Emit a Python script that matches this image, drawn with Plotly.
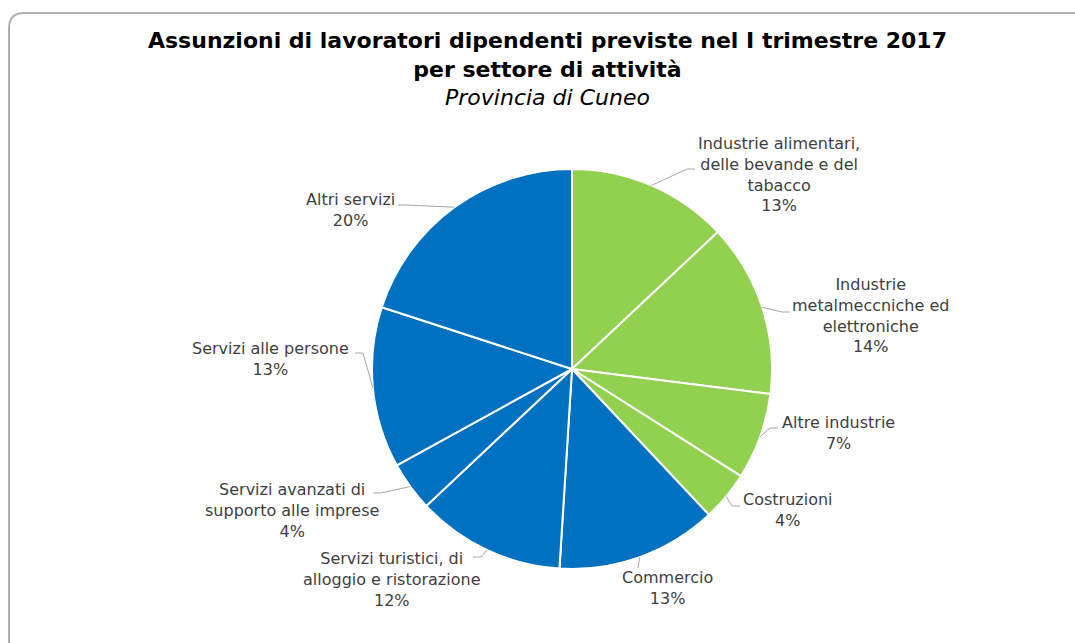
import math
import plotly.graph_objects as go

# ---- data ----
sectors = [
    "Industrie alimentari,<br>delle bevande e del<br>tabacco",
    "Industrie<br>metalmeccniche ed<br>elettroniche",
    "Altre industrie",
    "Costruzioni",
    "Commercio",
    "Servizi turistici, di<br>alloggio e ristorazione",
    "Servizi avanzati di<br>supporto alle imprese",
    "Servizi alle persone",
    "Altri servizi",
]
shares = [13, 14, 7, 4, 13, 12, 4, 13, 20]
groups = ["ind", "ind", "ind", "ind", "serv", "serv", "serv", "serv", "serv"]

# ---- layout / style ----
W, H = 1075, 643
CX, CY, R = 572, 369, 200
GREEN, BLUE = "#92D050", "#0070C0"
TEXT = "#404040"
LINE = "#A6A6A6"
FONT = "DejaVu Sans"

# label block centres (px) and leader attach points (px)
label_pos = [(779, 174), (870, 316), (838, 433), (788, 510), (667, 588),
             (392, 579), (292, 510), (270, 359), (350, 210)]
attach = [(695, 169), (790, 312), (778, 428), (740, 506), (638, 568),
          (473, 557), (373, 493), (355, 353), (398, 205)]


def px(x, y):
    return x / W, 1 - y / H


colors = [GREEN if g == "ind" else BLUE for g in groups]

fig = go.Figure(go.Pie(
    values=shares,
    labels=[s.replace("<br>", " ") for s in sectors],
    sort=False,
    direction="clockwise",
    rotation=0,
    marker=dict(colors=colors, line=dict(color="white", width=2)),
    textinfo="none",
    hoverinfo="label+percent",
    showlegend=False,
    domain=dict(x=[(CX - R) / W, (CX + R) / W],
                y=[1 - (CY + R) / H, 1 - (CY - R) / H]),
))

annotations = []
shapes = []
total = sum(shares)
cum = 0
for i, (s, v) in enumerate(zip(sectors, shares)):
    mid = (cum + v / 2) / total * 2 * math.pi
    cum += v
    ex = CX + R * math.sin(mid)
    ey = CY - R * math.cos(mid)
    ax, ay = attach[i]
    if abs(ax - ex) > abs(ay - ey) * 0.3 and i != 4:
        elx = ax + (8 if ex > ax else -8)
        ely = ay
    else:
        elx, ely = ax, ay
    path = "M {} {} L {} {} L {} {}".format(*px(ex, ey), *px(elx, ely), *px(ax, ay))
    shapes.append(dict(type="path", path=path, xref="paper", yref="paper",
                       line=dict(color=LINE, width=1)))
    lx, ly = label_pos[i]
    x, y = px(lx, ly)
    annotations.append(dict(
        x=x, y=y, xref="paper", yref="paper", xanchor="center", yanchor="middle",
        text=f"{s}<br>{v}%", showarrow=False, align="center",
        font=dict(family=FONT, size=16, color=TEXT),
    ))

# title
annotations.append(dict(
    x=px(547, 0)[0], y=px(0, 26)[1], xref="paper", yref="paper",
    xanchor="center", yanchor="top", showarrow=False, align="center",
    text="<b>Assunzioni di lavoratori dipendenti previste nel I trimestre 2017</b><br>"
         "<b>per settore di attività</b><br><i>Provincia di Cuneo</i>",
    font=dict(family=FONT, size=22, color="#000000"),
))

# outer rounded frame (top and left edges visible)
frame = "M {} {} L {} {} Q {} {} {} {} L {} {}".format(
    *px(9, 643), *px(9, 28), *px(9, 13), *px(24, 13), *px(1075, 13))
shapes.append(dict(type="path", path=frame, xref="paper", yref="paper",
                   line=dict(color="#B0B0B0", width=2)))

fig.update_layout(
    width=W, height=H,
    margin=dict(l=0, r=0, t=0, b=0),
    paper_bgcolor="white", plot_bgcolor="white",
    annotations=annotations, shapes=shapes,
)

fig.write_html("out.html")
